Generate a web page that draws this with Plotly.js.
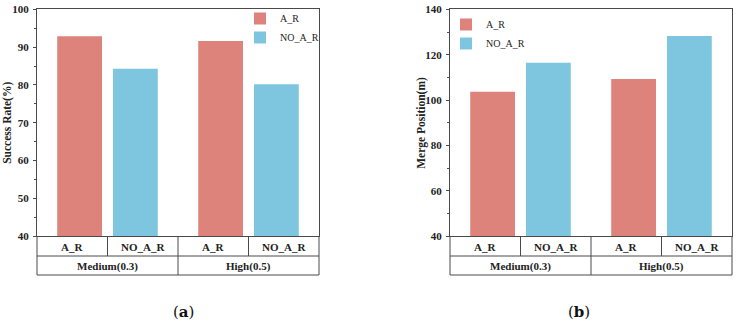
<!DOCTYPE html>
<html>
<head>
<meta charset="utf-8">
<script src="https://cdn.plot.ly/plotly-3.0.1.min.js"></script>
<style>html,body{margin:0;padding:0;background:#fff;}#chart{width:736px;height:323px;}</style>
</head>
<body>
<div id="chart"></div>
<script>
// ---- data ----
const groups = ['Medium(0.3)', 'High(0.5)'];
const seriesNames = ['A_R', 'NO_A_R'];
const successAR = [92.9, 91.6];
const successNOAR = [84.3, 80.2];
const mergeAR = [103.7, 109.3];
const mergeNOAR = [116.5, 128.2];
const successTicks = [40, 50, 60, 70, 80, 90, 100];
const mergeTicks = [40, 60, 80, 100, 120, 140];
const captions = ['(<b>a</b>)', '(<b>b</b>)'];
const yTitles = ['Success Rate(%)', 'Merge Position(m)'];

// ---- layout helpers ----
const W = 736, H = 323;
const px = v => v / W;
const py = v => 1 - v / H;
const colors = ['#DE837B', '#7EC6DF'];
const lineCol = '#4a4a4a';
const serif = 'Liberation Serif, Times New Roman, serif';

const plotTop = 9.3, plotBot = 236.3, row1 = 256, row2 = 275;
const domX = [[37, 319], [450, 732]];

const traces = [];
const vals = [[successAR, successNOAR], [mergeAR, mergeNOAR]];
vals.forEach((pair, p) => {
  pair.forEach((ys, s) => {
    traces.push({
      type: 'bar', x: groups, y: ys, name: seriesNames[s],
      xaxis: p === 0 ? 'x' : 'x2', yaxis: p === 0 ? 'y' : 'y2',
      legend: p === 0 ? 'legend' : 'legend2',
      marker: {color: colors[s], line: {width: 0}},
      hoverinfo: 'skip'
    });
  });
});

function xaxis(p) {
  return {
    domain: [px(domX[p][0]), px(domX[p][1])],
    anchor: p === 0 ? 'y' : 'y2',
    type: 'category', range: [-0.5, 1.5],
    showticklabels: false, ticks: '', showgrid: false, zeroline: false,
    showline: true, mirror: true, linecolor: lineCol, linewidth: 1
  };
}
function yaxis(p, ticks, dminor) {
  return {
    domain: [py(plotBot), py(plotTop)],
    anchor: p === 0 ? 'x' : 'x2',
    range: [ticks[0], ticks[ticks.length - 1]],
    tickvals: ticks, ticktext: ticks.map(t => '<b>' + t + '</b>'),
    ticks: 'outside', ticklen: 3, tickcolor: lineCol, tickwidth: 1,
    minor: {dtick: dminor, ticks: 'outside', ticklen: 2, tickcolor: lineCol, showgrid: false},
    showgrid: false, zeroline: false,
    showline: true, mirror: true, linecolor: lineCol, linewidth: 1,
    tickfont: {family: serif, size: 11, color: '#222'},
    ticklabelstandoff: 2
  };
}

const shapes = [];
const annotations = [];
const ann = o => Object.assign({showarrow: false, xanchor: 'center', yanchor: 'middle'}, o);
[0, 1].forEach(p => {
  const xr = p === 0 ? 'x' : 'x2';
  const L = px(domX[p][0]), R = px(domX[p][1]);
  const ln = {color: lineCol, width: 1};
  // horizontal table lines
  shapes.push({type: 'line', xref: 'paper', yref: 'paper', x0: L, x1: R, y0: py(row1), y1: py(row1), line: ln});
  shapes.push({type: 'line', xref: 'paper', yref: 'paper', x0: L, x1: R, y0: py(row2), y1: py(row2), line: ln});
  // outer verticals
  shapes.push({type: 'line', xref: 'paper', yref: 'paper', x0: L, x1: L, y0: py(plotBot), y1: py(row2), line: ln});
  shapes.push({type: 'line', xref: 'paper', yref: 'paper', x0: R, x1: R, y0: py(plotBot), y1: py(row2), line: ln});
  // group divider
  shapes.push({type: 'line', xref: xr, yref: 'paper', x0: 0.5, x1: 0.5, y0: py(plotBot), y1: py(row2), line: ln});
  // series dividers in row 1
  groups.forEach((g, gi) => {
    shapes.push({type: 'line', xref: xr, yref: 'paper', x0: gi, x1: gi, y0: py(plotBot), y1: py(row1), line: ln});
    seriesNames.forEach((sn, si) => {
      annotations.push(ann({xref: xr, yref: 'paper', x: gi - 0.25 + 0.5 * si, y: py((plotBot + row1) / 2 + 0.5),
        text: '<b>' + sn + '</b>', font: {family: serif, size: 11, color: '#222'}}));
    });
    annotations.push(ann({xref: xr, yref: 'paper', x: gi, y: py((row1 + row2) / 2 + 0.5),
      text: '<b>' + g + '</b>', font: {family: serif, size: 11, color: '#222'}}));
  });
  // y titles
  annotations.push(ann({xref: 'paper', yref: 'paper', x: px(p === 0 ? 8 : 422), y: py((plotTop + plotBot) / 2),
    text: '<b>' + yTitles[p] + '</b>', textangle: -90,
    font: {family: serif, size: 11.5, color: '#222'}}));
  // captions
  annotations.push(ann({xref: 'paper', yref: 'paper', x: px(p === 0 ? 183.5 : 579), y: py(312),
    text: captions[p], font: {family: 'DejaVu Serif, serif', size: 15, color: '#111'}}));
});

const legendBase = {
  font: {family: serif, size: 10, color: '#222'}, bgcolor: 'rgba(0,0,0,0)', borderwidth: 0,
  xanchor: 'left', yanchor: 'top', tracegroupgap: 0, itemclick: false
};

const layout = {
  width: W, height: H, margin: {l: 0, r: 0, t: 0, b: 0},
  paper_bgcolor: '#fff', plot_bgcolor: '#fff',
  barmode: 'group', bargap: 0.209, bargroupgap: 0.197,
  xaxis: xaxis(0), xaxis2: xaxis(1),
  yaxis: yaxis(0, successTicks, 5), yaxis2: yaxis(1, mergeTicks, 10),
  legend: Object.assign({}, legendBase, {x: px(240), y: py(4)}),
  legend2: Object.assign({}, legendBase, {x: px(446), y: py(10)}),
  shapes: shapes, annotations: annotations, showlegend: true
};

Plotly.newPlot('chart', traces, layout, {displayModeBar: false, staticPlot: true});
</script>
</body>
</html>
